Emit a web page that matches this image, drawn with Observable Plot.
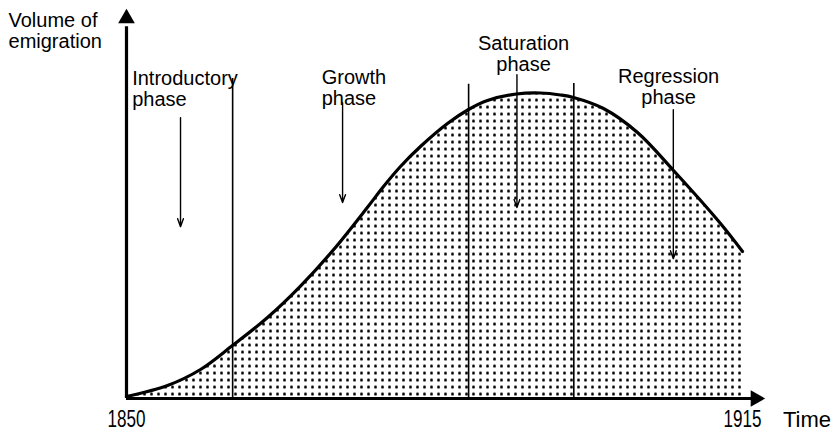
<!DOCTYPE html>
<html>
<head>
<meta charset="utf-8">
<script src="https://cdn.jsdelivr.net/npm/d3@7"></script>
<script src="https://cdn.jsdelivr.net/npm/@observablehq/plot@0.6"></script>
<style>
  html, body { margin: 0; padding: 0; background: #fff; }
  #chart svg { display: block; overflow: visible; }
</style>
</head>
<body>
<div id="chart"></div>
<script>
// Curve: volume of emigration over time (arbitrary units, peak = 100)
const curveYears  = [1850, 1854.33, 1857.81, 1861.18, 1864.88, 1868.36, 1871.84, 1875.43, 1877.12, 1878.91, 1881.02, 1883.87, 1886.09, 1888.09, 1891.15, 1893.68, 1895.80, 1897.17, 1900.33, 1903.92, 1907.72, 1912.68, 1915];
const curveValues = [0.66, 4.27, 9.52, 17.39, 26.58, 36.89, 48.80, 62.75, 69.58, 76.14, 82.70, 90.25, 94.85, 97.80, 99.93, 100.26, 99.61, 98.79, 95.18, 87.30, 74.83, 57.43, 48.24];

// Phase boundaries
const dividerYears = [1861.2, 1886.1, 1897.2];
const dividerTops  = [105.0, 103.1, 103.4];

// Phase labels
const leftPhaseNames   = ["Introductory\nphase", "Growth\nphase"];
const leftPhaseYears   = [1850.6, 1870.6];
const leftPhaseValues  = [96.0, 96.2];
const midPhaseNames    = ["Saturation\nphase", "Regression\nphase"];
const midPhaseYears    = [1891.9, 1907.2];
const midPhaseValues   = [107.6, 96.7];

// Phase arrows
const arrowYears = [1855.7, 1872.8, 1891.2, 1907.7];
const arrowTops  = [92.2, 97.1, 106.3, 94.8];
const arrowTips  = [56.4, 64.3, 62.7, 45.9];

// Axes
const tickYears  = [1850, 1915];
const tickLabels = ["1850", "1915"];
const xAxisEnd = 1917.43;
const yAxisEnd = 128;
const yTitle = "Volume of\nemigration";
const xTitle = "Time";

const curve = curveYears.map((year, i) => ({year, value: curveValues[i]}));
const dividers = dividerYears.map((year, i) => ({year, top: dividerTops[i]}));
const leftLabels = leftPhaseNames.map((name, i) => ({name, year: leftPhaseYears[i], value: leftPhaseValues[i]}));
const midLabels = midPhaseNames.map((name, i) => ({name, year: midPhaseYears[i], value: midPhaseValues[i]}));
const arrows = arrowYears.map((year, i) => ({year, top: arrowTops[i], tip: arrowTips[i]}));
const ticks = tickYears.map((year, i) => ({year, label: tickLabels[i]}));

const patternDefs = () => {
  const g = d3.create("svg:g");
  const p = g.append("defs").append("pattern")
    .attr("id", "dots")
    .attr("patternUnits", "userSpaceOnUse")
    .attr("width", 7).attr("height", 7)
    .attr("x", 1).attr("y", 5.5);
  p.append("circle").attr("cx", 3.5).attr("cy", 3.5).attr("r", 1.5).attr("fill", "#000");
  return g.node();
};

const font = "'Liberation Sans', Arial, sans-serif";

const chart = Plot.plot({
  width: 837,
  height: 433,
  marginLeft: 126,
  marginRight: 95,
  marginTop: 8,
  marginBottom: 35,
  x: {domain: [1850, 1915], axis: null},
  y: {domain: [0, 128], axis: null},
  style: {fontFamily: font, background: "#fff", color: "#000"},
  marks: [
    patternDefs,
    Plot.areaY(curve, {x: "year", y: "value", fill: "url(#dots)", curve: "catmull-rom"}),
    Plot.ruleX(dividers, {x: "year", y1: 0, y2: "top", stroke: "#000", strokeWidth: 1.6}),
    Plot.arrow(arrows, {x: "year", y1: "top", y2: "tip", stroke: "#000", strokeWidth: 1.4, headLength: 9, headAngle: 40}),
    Plot.lineY(curve, {x: "year", y: "value", stroke: "#000", strokeWidth: 3.2, curve: "catmull-rom"}),
    // axes
    Plot.ruleX([1850], {y1: 0, y2: yAxisEnd - 6, stroke: "#000", strokeWidth: 3.2}),
    Plot.ruleY([0], {x1: 1850, x2: xAxisEnd - 1.3, stroke: "#000", strokeWidth: 3.2}),
    Plot.dot([{x: 1850, y: yAxisEnd}], {x: "x", y: "y", symbol: "triangle", r: 6.2, fill: "#000", stroke: null, dy: 10}),
    Plot.dot([{x: xAxisEnd, y: 0}], {x: "x", y: "y", symbol: "triangle", r: 6.2, fill: "#000", stroke: null, rotate: 90, dx: -10}),
    // labels
    Plot.text(leftLabels, {x: "year", y: "value", text: "name", textAnchor: "start", lineAnchor: "bottom", lineHeight: 1.05, fontSize: 20, fill: "#000"}),
    Plot.text(midLabels, {x: "year", y: "value", text: "name", textAnchor: "middle", lineAnchor: "bottom", lineHeight: 1.05, fontSize: 20, fill: "#000"}),
    Plot.text([yTitle], {x: 1837.55, y: 115.2, text: d => d, textAnchor: "start", lineAnchor: "bottom", lineHeight: 1.05, fontSize: 20, fill: "#000"}),
    Plot.text(ticks, {x: "year", y: -9.5, text: "label", textAnchor: "middle", lineAnchor: "bottom", fontSize: 23, fill: "#000"}),
    Plot.text([xTitle], {x: 1921.8, y: -9.2, text: d => d, textAnchor: "middle", lineAnchor: "bottom", fontSize: 22, fill: "#000"})
  ]
});
// condense the year labels to the narrow digits of the reference
d3.select(chart).selectAll("text")
  .filter(function() { return tickLabels.includes(this.textContent); })
  .attr("textLength", 38)
  .attr("lengthAdjust", "spacingAndGlyphs");
document.getElementById("chart").appendChild(chart);
</script>
</body>
</html>
